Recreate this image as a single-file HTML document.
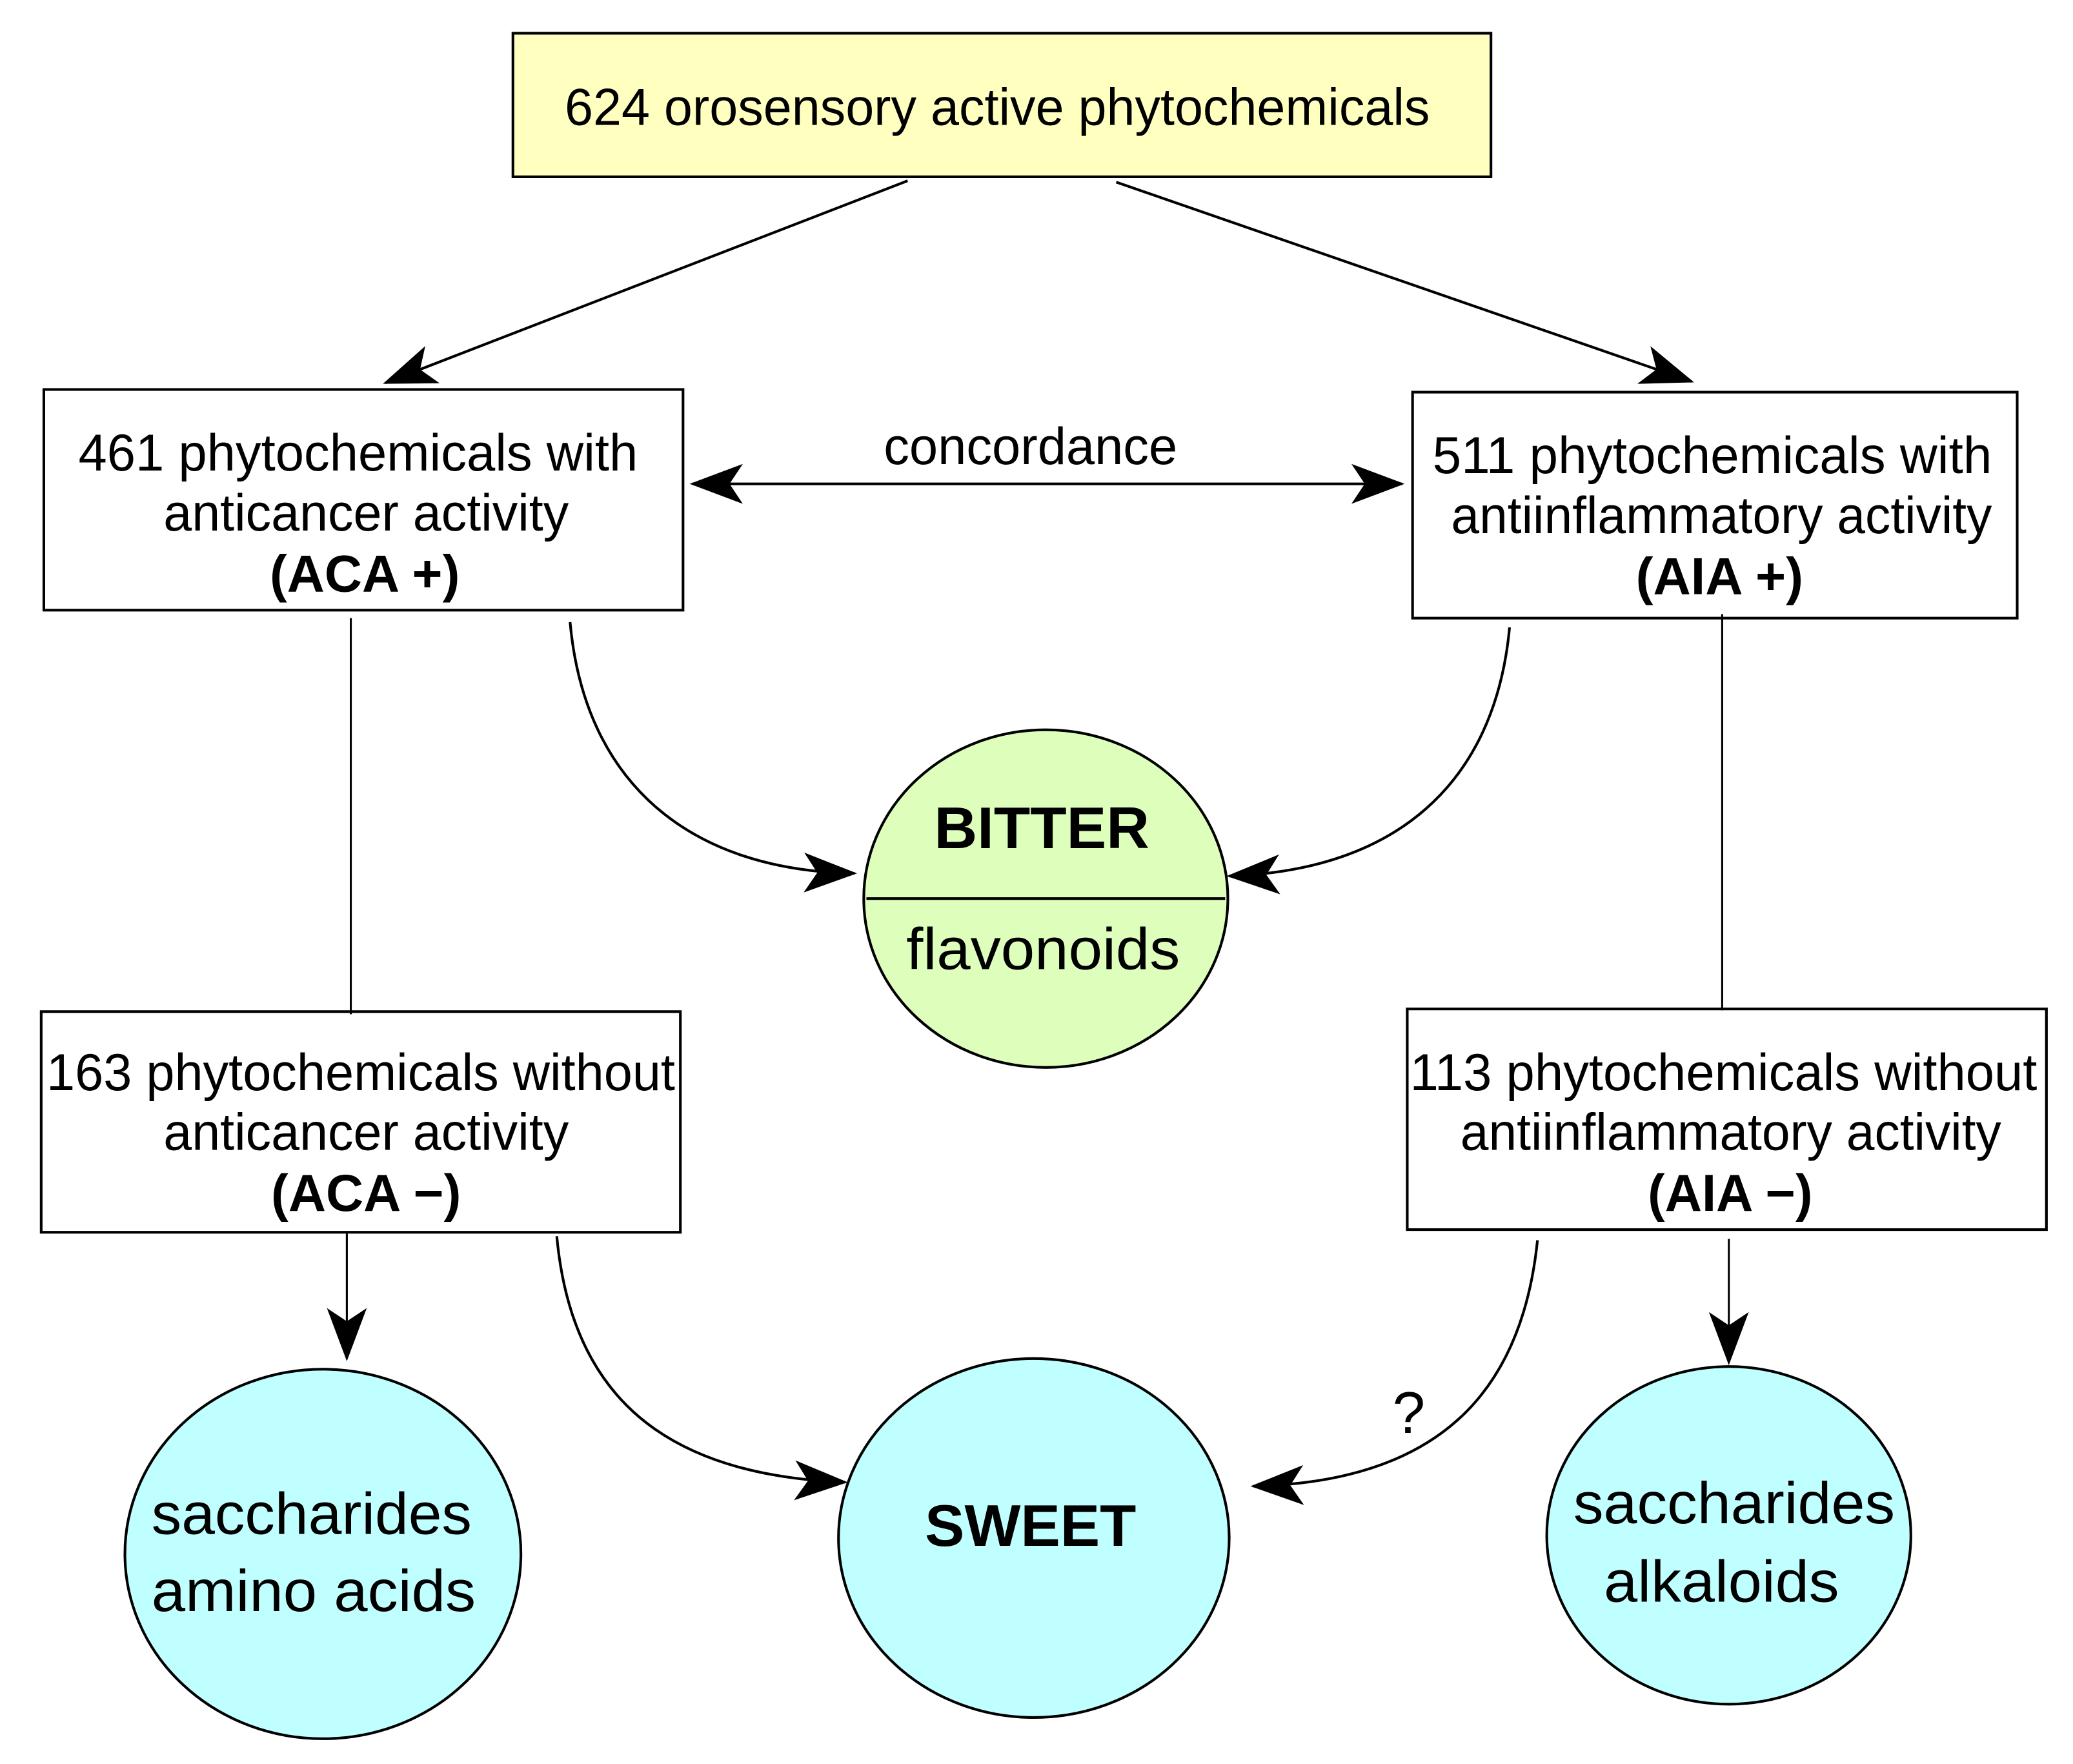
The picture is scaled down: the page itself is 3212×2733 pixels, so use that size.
<!DOCTYPE html>
<html><head><meta charset="utf-8"><style>
html,body{margin:0;padding:0;background:#fff;width:3212px;height:2733px;overflow:hidden}
svg{display:block}
text{font-family:"Liberation Sans",Arial,sans-serif;fill:#000}
</style></head><body>
<svg width="3212" height="2733" viewBox="0 0 1560 1327" preserveAspectRatio="none" xmlns="http://www.w3.org/2000/svg">
<defs>
<marker id="a" viewBox="0 0 40 30" refX="38" refY="15" markerWidth="40" markerHeight="30" markerUnits="userSpaceOnUse" orient="auto-start-reverse">
<path d="M0,0 L40,15 L0,30 L10,15 Z" fill="#000"/>
</marker>
</defs>
<g stroke="#000" stroke-width="2" fill="none">
<rect x="386" y="25" width="736" height="108" fill="#ffffc0"/>
<rect x="33" y="293" width="481" height="166" fill="#fff"/>
<rect x="1063" y="295" width="455" height="170" fill="#fff"/>
<rect x="31" y="761" width="481" height="166" fill="#fff"/>
<rect x="1059" y="759" width="481" height="166" fill="#fff"/>
<ellipse cx="787" cy="676" rx="137" ry="127" fill="#ddffbb"/>
<line x1="652" y1="676" x2="922" y2="676"/>
<ellipse cx="243" cy="1169" rx="149" ry="139" fill="#c0ffff"/>
<ellipse cx="778" cy="1157" rx="147" ry="135" fill="#c0ffff"/>
<ellipse cx="1301" cy="1155" rx="137" ry="127" fill="#c0ffff"/>
<line x1="683" y1="136" x2="290" y2="288" marker-end="url(#a)"/>
<line x1="840" y1="137" x2="1273" y2="287" marker-end="url(#a)"/>
<line x1="521" y1="364" x2="1055" y2="364" marker-start="url(#a)" marker-end="url(#a)"/>
<line x1="264" y1="465" x2="264" y2="763" stroke-width="1.5"/>
<line x1="1296" y1="462" x2="1296" y2="760" stroke-width="1.5"/>
<line x1="261" y1="928" x2="261" y2="1022" stroke-width="1.5" marker-end="url(#a)"/>
<line x1="1301" y1="932" x2="1301" y2="1025" stroke-width="1.5" marker-end="url(#a)"/>
<path d="M429,468 C440,590 520,655 643,657" marker-end="url(#a)"/>
<path d="M1136,472 C1125,590 1050,655 925,659" marker-end="url(#a)"/>
<path d="M419,930 C430,1050 500,1110 636,1115" marker-end="url(#a)"/>
<path d="M1157,933 C1145,1050 1080,1115 943,1118" marker-end="url(#a)"/>
</g>
<g font-size="39" lengthAdjust="spacingAndGlyphs">
<text x="425" y="94" textLength="651" lengthAdjust="spacingAndGlyphs">624 orosensory active phytochemicals</text>
<text x="59" y="354" textLength="421" lengthAdjust="spacingAndGlyphs">461 phytochemicals with</text>
<text x="123" y="399" textLength="305" lengthAdjust="spacingAndGlyphs">anticancer activity</text>
<text x="203" y="445" textLength="143" lengthAdjust="spacingAndGlyphs" font-weight="bold">(ACA +)</text>
<text x="665" y="349" textLength="221" lengthAdjust="spacingAndGlyphs">concordance</text>
<text x="1078" y="356" textLength="421" lengthAdjust="spacingAndGlyphs">511 phytochemicals with</text>
<text x="1092" y="401" textLength="407" lengthAdjust="spacingAndGlyphs">antiinflammatory activity</text>
<text x="1231" y="447" textLength="126" lengthAdjust="spacingAndGlyphs" font-weight="bold">(AIA +)</text>
<text x="35" y="820" textLength="473" lengthAdjust="spacingAndGlyphs">163 phytochemicals without</text>
<text x="123" y="865" textLength="305" lengthAdjust="spacingAndGlyphs">anticancer activity</text>
<text x="204" y="911" textLength="143" lengthAdjust="spacingAndGlyphs" font-weight="bold">(ACA −)</text>
<text x="1061" y="820" textLength="472" lengthAdjust="spacingAndGlyphs">113 phytochemicals without</text>
<text x="1099" y="865" textLength="407" lengthAdjust="spacingAndGlyphs">antiinflammatory activity</text>
<text x="1240" y="911" textLength="124" lengthAdjust="spacingAndGlyphs" font-weight="bold">(AIA −)</text>
</g>
<g font-size="44">
<text x="703" y="638" textLength="162" lengthAdjust="spacingAndGlyphs" font-weight="bold">BITTER</text>
<text x="682" y="729" textLength="206" lengthAdjust="spacingAndGlyphs">flavonoids</text>
<text x="114" y="1154" textLength="241" lengthAdjust="spacingAndGlyphs">saccharides</text>
<text x="114" y="1212" textLength="244" lengthAdjust="spacingAndGlyphs">amino acids</text>
<text x="696" y="1163" textLength="159" lengthAdjust="spacingAndGlyphs" font-weight="bold">SWEET</text>
<text x="1184" y="1146" textLength="242" lengthAdjust="spacingAndGlyphs">saccharides</text>
<text x="1207" y="1205" textLength="177" lengthAdjust="spacingAndGlyphs">alkaloids</text>
<text x="1048" y="1078">?</text>
</g>
</svg>
</body></html>
